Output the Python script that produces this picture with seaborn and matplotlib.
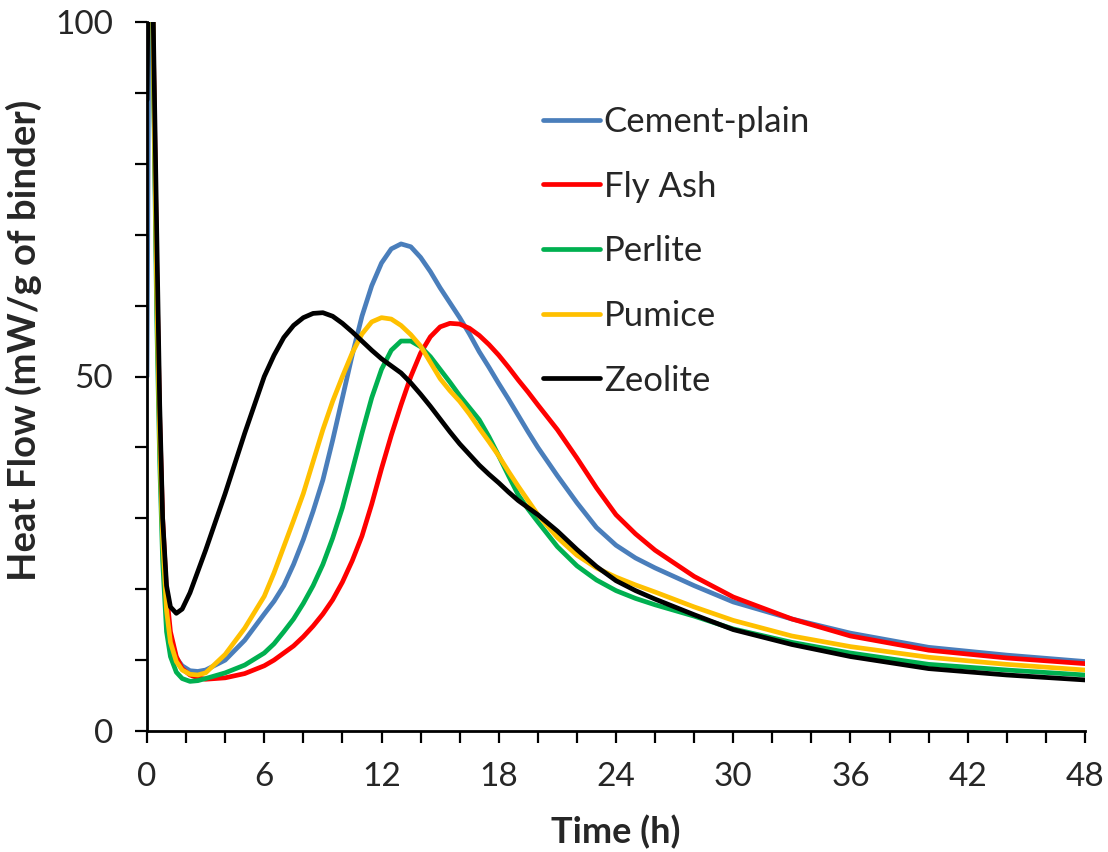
import numpy as np
import pandas as pd
import matplotlib
matplotlib.use("Agg")
import matplotlib.pyplot as plt
from matplotlib.ticker import MultipleLocator
import seaborn as sns

# ---- data ----
time_h = [0, 0.15, 0.35, 0.5, 0.65, 0.8, 1.0, 1.2, 1.5, 1.8, 2.2, 2.6, 3.0, 4, 5,
          6, 6.5, 7, 7.5, 8, 8.5, 9, 9.5, 10, 10.5, 11, 11.5, 12, 12.5, 13, 13.5,
          14, 14.5, 15, 15.5, 16, 16.5, 17, 17.5, 18, 18.5, 19, 19.5, 20,
          21, 22, 23, 24, 25, 26, 28, 30, 33, 36, 40, 44, 48]

cement_plain = [50, 130, 90, 62, 42, 28, 18, 13, 10.3, 9.2, 8.5, 8.4, 8.6, 10.0, 12.8,
                16.5, 18.3, 20.5, 23.5, 27, 31, 35.4, 41, 47, 53, 58.5, 62.8, 66, 68, 68.7, 68.3,
                66.8, 64.8, 62.5, 60.4, 58.3, 56, 53.5, 51.3, 49, 46.8, 44.5, 42.2, 40,
                36, 32.2, 28.7, 26.2, 24.4, 23.0, 20.5, 18.2, 15.8, 13.8, 11.8, 10.7, 9.8]

fly_ash = [120, 130, 92, 65, 44, 30, 19.5, 14, 10.5, 8.8, 7.9, 7.5, 7.3, 7.5, 8.1,
           9.2, 10.0, 11.0, 12.0, 13.3, 14.8, 16.5, 18.5, 21, 24, 27.5, 32, 37, 41.7, 46, 50,
           53.3, 55.6, 57, 57.5, 57.4, 56.8, 55.8, 54.5, 53, 51.3, 49.5, 47.8, 46,
           42.5, 38.5, 34.3, 30.5, 27.8, 25.5, 21.8, 18.9, 15.8, 13.4, 11.4, 10.3, 9.5]

perlite = [120, 130, 88, 58, 38, 24, 14, 10.5, 8.3, 7.4, 7.0, 7.1, 7.4, 8.2, 9.3,
           11.0, 12.3, 14, 15.8, 18, 20.5, 23.5, 27.2, 31.5, 36.7, 42, 47, 51, 53.7, 55, 55,
           54.2, 52.8, 51, 49.2, 47.3, 45.6, 43.9, 41.5, 38.8, 36, 33.3, 31.3, 29.5,
           26, 23.3, 21.3, 19.8, 18.7, 17.8, 16.2, 14.4, 12.5, 11.0, 9.4, 8.6, 7.9]

pumice = [120, 130, 90, 62, 41, 27, 17, 12.5, 9.8, 8.6, 8.0, 7.9, 8.2, 10.8, 14.5,
          19, 22.3, 26, 29.7, 33.5, 38, 42.5, 46.5, 50, 53.3, 56, 57.7, 58.3, 58.1, 57.2, 55.9,
          54.3, 52, 49.7, 48, 46.5, 44.7, 42.7, 40.8, 38.8, 36.6, 34.5, 32.5, 30.5,
          27.3, 24.8, 23.0, 21.7, 20.6, 19.6, 17.5, 15.6, 13.4, 11.9, 10.4, 9.4, 8.6]

zeolite = [89, 130, 95, 70, 46, 30, 20.5, 17.5, 16.6, 17.2, 19.5, 22.5, 25.5, 33.5, 42,
           50, 53, 55.5, 57.2, 58.3, 58.9, 59.0, 58.5, 57.5, 56.3, 55, 53.7, 52.5, 51.5, 50.5, 49.1,
           47.5, 45.8, 44, 42.2, 40.5, 39, 37.5, 36.2, 35, 33.7, 32.5, 31.5, 30.5,
           28.2, 25.6, 23.2, 21.2, 19.8, 18.6, 16.4, 14.3, 12.2, 10.5, 8.8, 7.9, 7.2]

series_names = ["Cement-plain", "Fly Ash", "Perlite", "Pumice", "Zeolite"]
series_values = [cement_plain, fly_ash, perlite, pumice, zeolite]
colors = ["#4A7EBB", "#FF0000", "#00B050", "#FFC000", "#000000"]

x_ticks = [0, 6, 12, 18, 24, 30, 36, 42, 48]
y_ticks = [0, 50, 100]

# ---- long-form table ----
frames = []
for name, vals in zip(series_names, series_values):
    frames.append(pd.DataFrame({"Time": time_h, "Heat": vals, "Series": name}))
df = pd.concat(frames, ignore_index=True)

sns.set_style("ticks")
plt.rcParams["font.family"] = ["Lato", "DejaVu Sans"]

fig = plt.figure(figsize=(11.08, 8.52), dpi=100)
ax = fig.add_axes([147 / 1108, 1 - 731 / 852, (1085 - 147) / 1108, (731 - 22) / 852])

sns.lineplot(data=df, x="Time", y="Heat", hue="Series", hue_order=series_names,
             palette=dict(zip(series_names, colors)), linewidth=3.4,
             estimator=None, sort=False, ax=ax)

ax.set_xlim(0, 48)
ax.set_ylim(0, 100)
ax.set_xticks(x_ticks)
ax.set_yticks(y_ticks)
ax.xaxis.set_minor_locator(MultipleLocator(2))
ax.yaxis.set_minor_locator(MultipleLocator(10))

for s in ["top", "right"]:
    ax.spines[s].set_visible(False)
for s in ["left", "bottom"]:
    ax.spines[s].set_linewidth(2)
    ax.spines[s].set_color("black")

ax.tick_params(which="both", direction="out", length=8.5, width=1.6, color="black")
ax.tick_params(axis="x", which="major", labelsize=24, pad=14)
ax.tick_params(axis="y", which="major", labelsize=24, pad=16)

ax.set_xlabel("Time (h)", fontsize=26, fontweight="bold")
ax.set_ylabel("Heat Flow (mW/g of binder)", fontsize=27.5, fontweight="bold")
ax.xaxis.set_label_coords(0.5, -0.118)
ax.yaxis.set_label_coords(-0.112, 0.551)

leg = ax.legend(loc="upper left", bbox_to_anchor=(0.404, 0.906), frameon=False,
                fontsize=25, handlelength=1.64, handletextpad=0.1,
                labelspacing=0.94, borderpad=0)
for line in leg.get_lines():
    line.set_linewidth(3.4)

fig.savefig("out.png", dpi=100)
